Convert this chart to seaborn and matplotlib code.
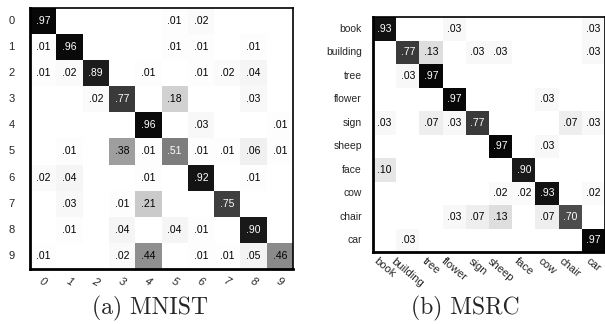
import numpy as np
import pandas as pd
import matplotlib
matplotlib.use("Agg")
import matplotlib.pyplot as plt
import seaborn as sns
from matplotlib.colors import LinearSegmentedColormap

# MNIST confusion matrix (rows = true, cols = predicted)
mnist_labels = ["0", "1", "2", "3", "4", "5", "6", "7", "8", "9"]
mnist_values = [
    [.97, 0, 0, 0, 0, .01, .02, 0, 0, 0],
    [.01, .96, 0, 0, 0, .01, .01, 0, .01, 0],
    [.01, .02, .89, 0, .01, 0, .01, .02, .04, 0],
    [0, 0, .02, .77, 0, .18, 0, 0, .03, 0],
    [0, 0, 0, 0, .96, 0, .03, 0, 0, .01],
    [0, .01, 0, .38, .01, .51, .01, .01, .06, .01],
    [.02, .04, 0, 0, .01, 0, .92, 0, .01, 0],
    [0, .03, 0, .01, .21, 0, 0, .75, 0, 0],
    [0, .01, 0, .04, 0, .04, .01, 0, .90, 0],
    [.01, 0, 0, .02, .44, 0, .01, .01, .05, .46],
]

# MSRC confusion matrix
msrc_labels = ["book", "building", "tree", "flower", "sign",
               "sheep", "face", "cow", "chair", "car"]
msrc_values = [
    [.93, 0, 0, .03, 0, 0, 0, 0, 0, .03],
    [0, .77, .13, 0, .03, .03, 0, 0, 0, .03],
    [0, .03, .97, 0, 0, 0, 0, 0, 0, 0],
    [0, 0, 0, .97, 0, 0, 0, .03, 0, 0],
    [.03, 0, .07, .03, .77, 0, 0, 0, .07, .03],
    [0, 0, 0, 0, 0, .97, 0, .03, 0, 0],
    [.10, 0, 0, 0, 0, 0, .90, 0, 0, 0],
    [0, 0, 0, 0, 0, .02, .02, .93, 0, .02],
    [0, 0, 0, .03, .07, .13, 0, .07, .70, 0],
    [0, .03, 0, 0, 0, 0, 0, 0, 0, .97],
]

captions = ["(a) MNIST", "(b) MSRC"]

sns.set_style("white")
plt.rcParams["font.family"] = ["Liberation Sans", "DejaVu Sans"]

cmap = LinearSegmentedColormap.from_list("wb", ["white", "black"])


def fmt_cell(v):
    # ".97" style, empty for zeros
    return "" if v == 0 else ("%.2f" % v)[1:]


def draw_cm(ax, values, labels):
    df = pd.DataFrame(values, index=labels, columns=labels)
    annot = df.map(fmt_cell)
    sns.heatmap(df, ax=ax, cmap=cmap, vmin=0, vmax=1, cbar=False,
                annot=annot, fmt="", annot_kws={"fontsize": 7.5},
                square=False, linewidths=0)
    # white text on dark cells only
    flat = np.array(values).ravel()
    for txt, v in zip(ax.texts, flat):
        txt.set_color("white" if v > 0.5 else "black")
    for side, sp in ax.spines.items():
        sp.set_visible(True)
        sp.set_color("black")
        sp.set_linewidth(2.0 if side in ("left", "bottom") else 1.2)
    ax.tick_params(length=0)
    ax.set_xlabel("")
    ax.set_ylabel("")


fig = plt.figure(figsize=(6.05, 3.24), dpi=100)

ax1 = fig.add_axes([0.0496, 0.170, 0.4347, 0.8055])
draw_cm(ax1, mnist_values, mnist_labels)
ax1.set_yticklabels(mnist_labels, rotation=0, fontsize=8)
ax1.set_xticklabels(mnist_labels, rotation=-30, fontsize=8, style="italic")
ax1.tick_params(axis="y", pad=11)
ax1.tick_params(axis="x", pad=5)

ax2 = fig.add_axes([0.6165, 0.2222, 0.3835, 0.7253])
draw_cm(ax2, msrc_values, msrc_labels)
ax2.set_yticklabels(msrc_labels, rotation=0, fontsize=7.5)
ax2.set_xticklabels(msrc_labels, rotation=-40, fontsize=8, ha="center")
ax2.tick_params(axis="y", pad=8)
ax2.tick_params(axis="x", pad=3)

fig.text(0.248, 0.049, captions[0], ha="center", va="center",
         fontsize=17, family=["cmr10", "DejaVu Serif"])
fig.text(0.769, 0.049, captions[1], ha="center", va="center",
         fontsize=17, family=["cmr10", "DejaVu Serif"])

fig.savefig("out.png", dpi=100)
